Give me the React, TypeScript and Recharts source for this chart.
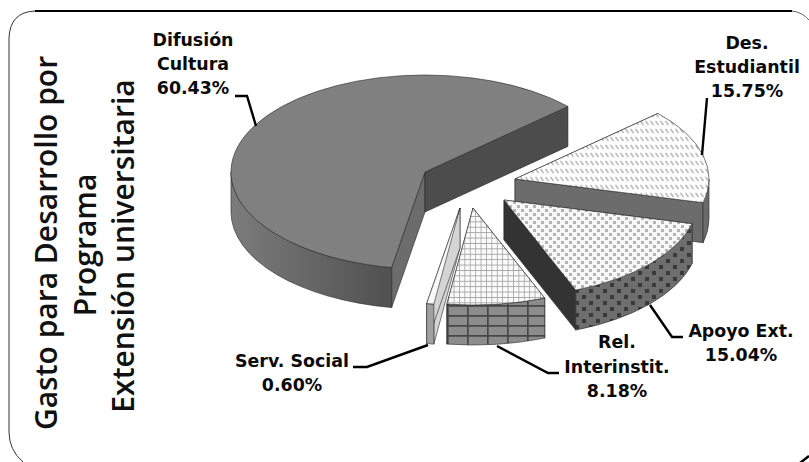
import { PieChart, Pie } from "recharts";

const categories = ["Difusión Cultura", "Des. Estudiantil", "Apoyo Ext.", "Rel. Interinstit.", "Serv. Social"];
const values = [60.43, 15.75, 15.04, 8.18, 0.6];
const titleLines = ["Gasto para Desarrollo por", "Programa", "Extensión universitaria"];

const labelLines = [["Difusión", "Cultura"], ["Des.", "Estudiantil"], ["Apoyo Ext."], ["Rel.", "Interinstit."], ["Serv. Social"]];

const chartData = categories.map((name, i) => ({ name, value: values[i] }));

// look of the fake 3d
const SQUASH = 0.5;
const DEPTH = 40;
const FONT = "'DejaVu Sans', sans-serif";

const explode = [[0, 0], [90, 7], [79, 28], [48, 36], [35, 36]];
const topFill = ["#808080", "url(#hatch)", "url(#dots)", "url(#grid)", "#f8f8f8"];
const rimFill = ["url(#rimShade)", "#6a6a6a", "url(#blocks)", "url(#bricks)", "#a0a0a0"];
const startWall = ["#6c6c6c", "#777777", "#777777", "#777777", "#d4d4d4"];
const endWall = ["#4c4c4c", "#6c6c6c", "#333333", "#777777", "#d4d4d4"];

const labelPos = [
  { x: 193, y: [46, 70, 94] },
  { x: 747, y: [49, 73, 97] },
  { x: 741, y: [337, 361] },
  { x: 617, y: [348, 373, 397] },
  { x: 292, y: [367, 391] },
];
const leaders = [
  "M235 96 L247 96 L256 126",
  "M707 98 L702 155",
  "M650 305 L672 337 L683 337",
  "M497 346 L548 373 L559 373",
  "M353 367 L367 367 L428 345",
];

const rad = Math.PI / 180;

const Slice3D = (props: any) => {
  const { cx, cy, outerRadius, startAngle, endAngle, name } = props;
  const i = categories.indexOf(name);
  const [ox, oy] = explode[i];
  const rx = outerRadius;
  const ry = outerRadius * SQUASH;
  const ax = cx + ox;
  const ay = cy + oy;
  const px = (a: number) => ax + rx * Math.cos(a * rad);
  const py = (a: number) => ay - ry * Math.sin(a * rad);
  const hi = Math.max(startAngle, endAngle);
  const lo = Math.min(startAngle, endAngle);
  const large = hi - lo > 180 ? 1 : 0;

  const wall = (a: number) =>
    `M${ax} ${ay} L${px(a)} ${py(a)} L${px(a)} ${py(a) + DEPTH} L${ax} ${ay + DEPTH} Z`;

  // outer rim only where the arc faces the viewer
  let rim = "";
  for (const [bandLo, bandHi] of [[-180, 0], [180, 360]]) {
    const a1 = Math.min(hi, bandHi);
    const a2 = Math.max(lo, bandLo);
    if (a1 > a2) {
      rim += `M${px(a1)} ${py(a1)} A${rx} ${ry} 0 0 1 ${px(a2)} ${py(a2)} L${px(a2)} ${py(a2) + DEPTH} A${rx} ${ry} 0 0 0 ${px(a1)} ${py(a1) + DEPTH} Z`;
    }
  }

  const top = `M${ax} ${ay} L${px(hi)} ${py(hi)} A${rx} ${ry} 0 ${large} 1 ${px(lo)} ${py(lo)} Z`;
  const edge = { stroke: "#262626", strokeWidth: 0.6, strokeLinejoin: "round" as const };

  return (
    <g>
      <path d={wall(hi)} fill={startWall[i]} {...edge} />
      <path d={wall(lo)} fill={endWall[i]} {...edge} />
      <path d={rim} fill={rimFill[i]} {...edge} />
      <path d={top} fill={topFill[i]} {...edge} />
    </g>
  );
};

const SliceLabel = (props: any) => {
  const i = categories.indexOf(props.name);
  const pos = labelPos[i];
  const rows = [...labelLines[i], `${values[i].toFixed(2)}%`];
  return (
    <g>
      <path d={leaders[i]} fill="none" stroke="#000" strokeWidth={2.4} />
      {rows.map((row, r) => (
        <text
          key={row}
          x={pos.x}
          y={pos.y[r]}
          textAnchor="middle"
          fontFamily={FONT}
          fontWeight={700}
          fontSize={17.4}
          fill="#0a0a0a"
        >
          {row}
        </text>
      ))}
    </g>
  );
};

const App = () => {
  return (
    <div style={{ position: "absolute", left: 0, top: 0, width: 809, height: 462, overflow: "hidden", background: "#fff" }}>
      <PieChart width={809} height={462} margin={{ top: 0, right: 0, bottom: 0, left: 0 }}>
        <defs>
          <linearGradient id="rimShade" gradientUnits="userSpaceOnUse" x1={231} y1={0} x2={392} y2={0}>
            <stop offset="0%" stopColor="#7c7c7c" />
            <stop offset="100%" stopColor="#505050" />
          </linearGradient>
          <pattern id="hatch" width={5} height={8} patternUnits="userSpaceOnUse">
            <rect width={5} height={8} fill="#fdfdfd" />
            <path d="M0.5 1 L3.5 5" stroke="#b4b4b4" strokeWidth={1.3} />
          </pattern>
          <pattern id="dots" width={8} height={8} patternUnits="userSpaceOnUse">
            <rect width={8} height={8} fill="#f8f8f8" />
            <rect x={1} y={1} width={3} height={3} fill="#b4b4b4" />
            <rect x={5} y={5} width={3} height={3} fill="#b4b4b4" />
          </pattern>
          <pattern id="grid" width={5.4} height={5.4} patternUnits="userSpaceOnUse">
            <rect width={5.4} height={5.4} fill="#fbfbfb" />
            <path d="M0 0 L5.4 0 M0 0 L0 5.4" stroke="#a4a4a4" strokeWidth={1.6} />
          </pattern>
          <pattern id="blocks" width={14} height={12} patternUnits="userSpaceOnUse">
            <rect width={14} height={12} fill="#6e6e6e" />
            <rect x={1} y={1} width={4} height={4} fill="#3a3a3a" />
            <rect x={8} y={7} width={4} height={4} fill="#3a3a3a" />
          </pattern>
          <pattern id="bricks" width={20} height={10} x={447} y={305} patternUnits="userSpaceOnUse">
            <rect width={20} height={10} fill="#8c8c8c" />
            <path d="M0 0 L20 0 M0 0 L0 10" stroke="#474747" strokeWidth={3.4} />
          </pattern>
        </defs>

        {/* card frame */}
        <path d="M35 11 L792 11" stroke="#000" strokeWidth={2} fill="none" />
        <path d="M35 11 Q10 12 9 38 L9 432 Q9 450 23 462" stroke="#333" strokeWidth={1} fill="none" />
        <path d="M792 11 Q802 12 809 20" stroke="#666" strokeWidth={1} fill="none" />
        <path d="M800 463 L809 456" stroke="#000" strokeWidth={2.5} fill="none" />

        {titleLines.map((line, i) => (
          <text
            key={line}
            transform={`translate(${[57, 96, 134][i]} ${[243, 245, 246][i]}) rotate(-90)`}
            textAnchor="middle"
            fontFamily="'Open Sans', sans-serif"
            fontWeight={600}
            fontSize={30}
            fill="#111"
          >
            {line}
          </text>
        ))}

        <Pie
          data={chartData}
          dataKey="value"
          nameKey="name"
          cx={425}
          cy={172}
          innerRadius={0}
          outerRadius={194}
          startAngle={260.1}
          endAngle={-99.9}
          paddingAngle={0}
          stroke="none"
          shape={Slice3D}
          label={SliceLabel}
          labelLine={false}
          isAnimationActive={false}
        />
      </PieChart>
    </div>
  );
};

export default App;
